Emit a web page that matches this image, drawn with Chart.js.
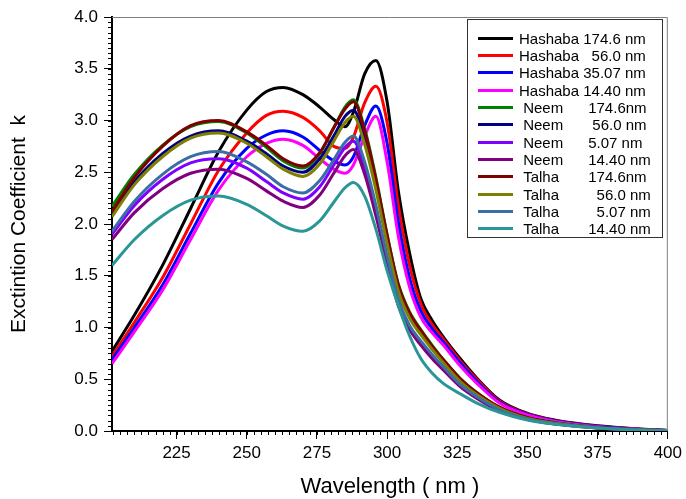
<!DOCTYPE html>
<html>
<head>
<meta charset="utf-8">
<script src="https://cdn.jsdelivr.net/npm/chart.js@4.4.1/dist/chart.umd.min.js"></script>
<style>
  html, body { margin: 0; padding: 0; background: #fff; }
  canvas { display: block; }
</style>
</head>
<body>
<canvas id="chart" width="686" height="499"></canvas>
<script>
// wavelengths (nm) shared by every curve
const WAVELENGTH = [202, 210, 220, 230, 240, 250, 257, 263, 270, 276, 281, 285, 288, 292, 296, 300, 304, 308, 312, 316, 320, 326, 332, 340, 350, 360, 375, 390, 400];

// extinction coefficient k
const HASHABA_174 = [0.77, 1.12, 1.60, 2.15, 2.70, 3.10, 3.28, 3.32, 3.25, 3.13, 3.01, 2.94, 3.08, 3.45, 3.58, 3.18, 2.32, 1.72, 1.28, 1.07, 0.91, 0.70, 0.51, 0.30, 0.17, 0.105, 0.05, 0.02, 0.005];
const HASHABA_56 = [0.72, 1.05, 1.48, 2.00, 2.52, 2.88, 3.05, 3.09, 3.03, 2.90, 2.75, 2.73, 2.84, 3.17, 3.33, 2.98, 2.18, 1.60, 1.23, 1.03, 0.89, 0.68, 0.50, 0.29, 0.165, 0.10, 0.047, 0.018, 0.005];
const HASHABA_35 = [0.69, 1.00, 1.41, 1.91, 2.40, 2.73, 2.86, 2.90, 2.84, 2.71, 2.61, 2.57, 2.65, 2.95, 3.14, 2.78, 2.02, 1.48, 1.16, 0.99, 0.86, 0.66, 0.48, 0.28, 0.16, 0.097, 0.045, 0.017, 0.005];
const HASHABA_14 = [0.65, 0.96, 1.36, 1.85, 2.33, 2.65, 2.78, 2.82, 2.76, 2.63, 2.53, 2.49, 2.57, 2.85, 3.04, 2.60, 1.88, 1.39, 1.10, 0.95, 0.83, 0.63, 0.46, 0.27, 0.155, 0.093, 0.042, 0.016, 0.005];
const NEEM_174 = [2.17, 2.48, 2.76, 2.94, 2.99, 2.88, 2.74, 2.61, 2.54, 2.68, 2.93, 3.13, 3.20, 2.92, 2.45, 1.90, 1.42, 1.15, 0.98, 0.83, 0.69, 0.51, 0.37, 0.23, 0.13, 0.08, 0.035, 0.012, 0.003];
const NEEM_56 = [2.11, 2.41, 2.68, 2.85, 2.90, 2.80, 2.68, 2.56, 2.50, 2.63, 2.85, 3.04, 3.10, 2.83, 2.37, 1.84, 1.38, 1.11, 0.95, 0.80, 0.67, 0.49, 0.36, 0.223, 0.125, 0.076, 0.033, 0.011, 0.003];
const NEEM_5 = [1.90, 2.18, 2.43, 2.59, 2.63, 2.54, 2.41, 2.30, 2.24, 2.36, 2.57, 2.74, 2.80, 2.55, 2.14, 1.66, 1.24, 1.00, 0.86, 0.73, 0.60, 0.445, 0.325, 0.20, 0.113, 0.069, 0.03, 0.01, 0.003];
const NEEM_14 = [1.85, 2.11, 2.34, 2.49, 2.53, 2.44, 2.32, 2.22, 2.16, 2.28, 2.49, 2.66, 2.72, 2.48, 2.08, 1.62, 1.21, 0.98, 0.83, 0.70, 0.59, 0.43, 0.315, 0.195, 0.11, 0.067, 0.03, 0.01, 0.003];
const TALHA_174 = [2.12, 2.45, 2.75, 2.95, 3.00, 2.89, 2.76, 2.63, 2.56, 2.69, 2.93, 3.11, 3.18, 2.90, 2.43, 1.89, 1.41, 1.14, 0.97, 0.82, 0.69, 0.505, 0.37, 0.23, 0.128, 0.078, 0.034, 0.012, 0.003];
const TALHA_56 = [2.07, 2.38, 2.65, 2.83, 2.88, 2.78, 2.65, 2.53, 2.46, 2.58, 2.80, 2.98, 3.04, 2.77, 2.33, 1.81, 1.35, 1.09, 0.93, 0.79, 0.66, 0.48, 0.35, 0.22, 0.122, 0.074, 0.032, 0.011, 0.003];
const TALHA_5 = [1.93, 2.22, 2.48, 2.65, 2.70, 2.60, 2.48, 2.36, 2.30, 2.42, 2.62, 2.79, 2.85, 2.60, 2.18, 1.69, 1.27, 1.02, 0.87, 0.74, 0.62, 0.45, 0.33, 0.205, 0.115, 0.07, 0.031, 0.01, 0.003];
const TALHA_14 = [1.60, 1.85, 2.08, 2.23, 2.27, 2.19, 2.08, 1.98, 1.93, 2.03, 2.21, 2.35, 2.40, 2.27, 1.95, 1.55, 1.21, 0.92, 0.70, 0.56, 0.46, 0.36, 0.27, 0.18, 0.105, 0.065, 0.028, 0.009, 0.002];

const SERIES_LABELS = [
  "Hashaba 174.6 nm",
  "Hashaba   56.0 nm",
  "Hashaba 35.07 nm",
  "Hashaba 14.40 nm",
  " Neem      174.6nm",
  " Neem       56.0 nm",
  " Neem      5.07 nm",
  " Neem      14.40 nm",
  " Talha       174.6nm",
  " Talha         56.0 nm",
  " Talha         5.07 nm",
  " Talha       14.40 nm",
];
const SERIES_COLORS = ["#000000", "#ff0000", "#0000ff", "#ff00ff", "#008000", "#000080", "#8000ff", "#800080", "#800000", "#808000", "#3a6ea5", "#2a9696"];

const X_TICKS = [225, 250, 275, 300, 325, 350, 375, 400];
const Y_TICKS = [0, 0.5, 1, 1.5, 2, 2.5, 3, 3.5, 4];

const FONT = "'Liberation Sans', Arial, sans-serif";
Chart.defaults.font.family = FONT;
Chart.defaults.color = "#000";

const seriesValues = [HASHABA_174, HASHABA_56, HASHABA_35, HASHABA_14, NEEM_174, NEEM_56, NEEM_5, NEEM_14, TALHA_174, TALHA_56, TALHA_5, TALHA_14];

function toPoints(values) {
  return WAVELENGTH.map((w, i) => ({ x: w, y: values[i] }));
}

// small ticks between the labelled ones, plus the grey top/right frame
const minorTicks = {
  id: "minorTicks",
  afterDraw(chart) {
    const { ctx, chartArea, scales } = chart;
    ctx.save();
    ctx.strokeStyle = "#000";
    ctx.lineWidth = 1;
    ctx.beginPath();
    for (let v = 202.5; v < 400; v += 2.5) {
      const px = Math.round(scales.x.getPixelForValue(v)) + 0.5;
      ctx.moveTo(px, chartArea.bottom);
      ctx.lineTo(px, chartArea.bottom + 4);
    }
    for (let i = 1; i < 80; i++) {
      const py = Math.round(scales.y.getPixelForValue(i * 0.05)) + 0.5;
      ctx.moveTo(chartArea.left - 4, py);
      ctx.lineTo(chartArea.left, py);
    }
    ctx.stroke();

    ctx.strokeStyle = "#808080";
    ctx.beginPath();
    ctx.moveTo(chartArea.left, chartArea.top + 0.5);
    ctx.lineTo(chartArea.right - 0.5, chartArea.top + 0.5);
    ctx.lineTo(chartArea.right - 0.5, chartArea.bottom);
    ctx.stroke();
    ctx.restore();
  },
};

// boxed legend in the upper right corner
const boxLegend = {
  id: "boxLegend",
  afterDraw(chart) {
    const ctx = chart.ctx;
    const left = 467, top = 19, width = 195, height = 218;
    ctx.save();
    ctx.fillStyle = "#fff";
    ctx.fillRect(left, top, width, height);
    ctx.strokeStyle = "#333";
    ctx.lineWidth = 1;
    ctx.strokeRect(left + 0.5, top + 0.5, width, height);
    ctx.font = `15px ${FONT}`;
    ctx.textBaseline = "middle";
    chart.data.datasets.forEach((ds, i) => {
      const y = Math.round(top + 18.5 + i * 17.35) + 0.5;
      ctx.strokeStyle = ds.borderColor;
      ctx.lineWidth = 3;
      ctx.beginPath();
      ctx.moveTo(left + 11, y);
      ctx.lineTo(left + 46, y);
      ctx.stroke();
      ctx.fillStyle = "#000";
      ctx.fillText(ds.label, left + 52, y + 1);
    });
    ctx.restore();
  },
};

new Chart(document.getElementById("chart"), {
  type: "line",
  data: {
    datasets: seriesValues.map((values, i) => ({
      label: SERIES_LABELS[i],
      data: toPoints(values),
      borderColor: SERIES_COLORS[i],
      backgroundColor: SERIES_COLORS[i],
      borderWidth: 3,
      pointRadius: 0,
      fill: false,
      cubicInterpolationMode: "monotone",
      order: seriesValues.length - i, // later series drawn on top
    })),
  },
  options: {
    responsive: false,
    animation: false,
    layout: { padding: { top: 17, right: 15, left: 0, bottom: 0 } },
    plugins: { legend: { display: false }, tooltip: { enabled: false } },
    scales: {
      x: {
        type: "linear",
        min: 202,
        max: 400,
        afterBuildTicks: (scale) => { scale.ticks = X_TICKS.map((v) => ({ value: v })); },
        afterFit: (scale) => { scale.height = 68; },
        grid: { drawOnChartArea: false, drawTicks: true, tickLength: 8, color: "#000", tickColor: "#000" },
        border: { display: true, color: "#000", width: 2 },
        ticks: { font: { size: 17 }, padding: 4, maxRotation: 0, autoSkip: false, callback: (v) => String(v) },
        title: { display: true, text: "Wavelength ( nm )", font: { size: 22 }, padding: { top: 4, bottom: -1 } },
      },
      y: {
        type: "linear",
        min: 0,
        max: 4,
        afterBuildTicks: (scale) => { scale.ticks = Y_TICKS.map((v) => ({ value: v })); },
        afterFit: (scale) => { scale.width = 112; },
        grid: { drawOnChartArea: false, drawTicks: true, tickLength: 8, color: "#000", tickColor: "#000" },
        border: { display: true, color: "#000", width: 2 },
        ticks: { font: { size: 17 }, padding: 6, autoSkip: false, callback: (v) => v.toFixed(1) },
        title: { display: true, text: "Exctintion Coefficient  k", font: { size: 21 }, padding: { top: 7, bottom: 0 } },
      },
    },
  },
  plugins: [minorTicks, boxLegend],
});
</script>
</body>
</html>
